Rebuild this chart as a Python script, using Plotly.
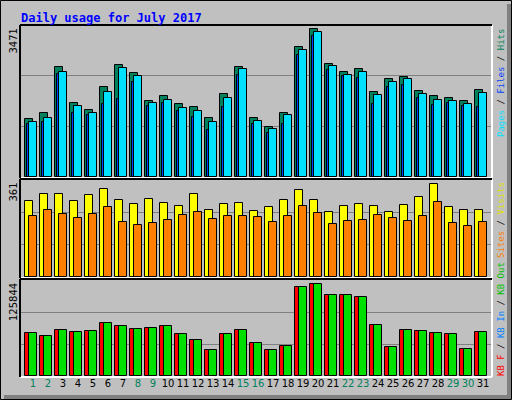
import plotly.graph_objects as go

days = list(range(1, 32))
weekend = [1, 2, 8, 9, 15, 16, 22, 23, 29, 30]
hits = [1325,1462,2512,1690,1530,2055,2558,2375,1736,1850,1667,1599,1347,1895,2512,1347,1142,1462,2969,3380,2580,2398,2466,1941,2238,2284,1964,1850,1804,1736,1987]
files = [1210,1256,2352,1462,1416,1667,1781,2169,1622,1690,1507,1370,1073,1599,2329,1210,1005,1210,2786,3220,2444,2307,2261,1667,2055,2101,1804,1644,1690,1622,1599]
pages = [1256,1347,2398,1622,1462,1941,2489,2307,1690,1759,1576,1507,1256,1804,2466,1279,1096,1416,2900,3311,2535,2329,2398,1873,2169,2238,1895,1759,1736,1667,1918]
visits = [283,309,309,283,305,327,286,272,290,275,264,309,249,272,275,246,260,286,324,286,242,264,272,264,242,268,298,346,260,249,249]
sites = [227,249,234,219,234,260,205,193,201,212,231,242,216,227,227,223,205,227,264,238,197,208,212,231,219,208,227,279,201,190,205]
kbout = [56373,52440,60306,57684,58995,69483,65550,61617,62928,65550,55062,47196,34086,55062,60306,43263,34086,39330,116679,120612,106191,106191,103569,66861,38019,60306,58995,56373,55062,35397,57684]
max1, max2, max3 = 3471, 361, 125844

W, H = 512, 400
def py(p): return 1 - p / H
def px(p): return p / W

fig = go.Figure()
def bar(y, color, off, xa, ya):
    fig.add_trace(go.Bar(x=days, y=y, marker=dict(color=color, line=dict(color="black", width=1)),
                         offset=off, width=0.53, xaxis=xa, yaxis=ya, showlegend=False, hoverinfo="skip"))

bar(hits, "#00805C", -0.53, "x", "y")
bar(files, "#0040FF", -0.40, "x", "y")
bar(pages, "#00E0FF", -0.27, "x", "y")
bar(visits, "#FFFF00", -0.53, "x2", "y2")
bar(sites, "#FF8000", -0.27, "x2", "y2")
bar(kbout, "#FF0000", -0.53, "x3", "y3")
bar(kbout, "#00E000", -0.27, "x3", "y3")

xr = [0.133, 31.53]
dom_x = [px(20), px(491)]
ticktext = [f'<span style="color:{"#00805C" if d in weekend else "black"}">{d}</span>' for d in days]
common_x = dict(range=xr, domain=dom_x, showgrid=False, zeroline=False, fixedrange=True)
def yax(m, top, bot):
    return dict(range=[0, m], domain=[py(bot), py(top)], tickvals=[m/3, 2*m/3], showticklabels=False,
                ticks="", gridcolor="#808080", gridwidth=1, zeroline=False)

fig.update_layout(
    width=W, height=H, margin=dict(l=0, r=0, t=0, b=0),
    paper_bgcolor="#C0C0C0", plot_bgcolor="#C0C0C0", barmode="overlay", bargap=0,
    xaxis=dict(**common_x, anchor="y", showticklabels=False),
    xaxis2=dict(**common_x, anchor="y2", showticklabels=False),
    xaxis3=dict(**common_x, anchor="y3", tickvals=days, ticktext=ticktext, ticks="",
                tickfont=dict(family="DejaVu Sans", size=10)),
    yaxis=yax(max1, 25, 177), yaxis2=yax(max2, 180, 277), yaxis3=yax(max3, 280, 376),
    font=dict(family="DejaVu Sans", color="black"),
)

shapes = [
    dict(type="rect", xref="paper", yref="paper", x0=px(0.5), x1=px(511.5), y0=py(399.5), y1=py(0.5),
         line=dict(color="black", width=1)),
    dict(type="rect", xref="paper", yref="paper", x0=px(507), x1=px(511), y0=py(399), y1=py(4),
         fillcolor="#808080", line=dict(width=0)),
    dict(type="rect", xref="paper", yref="paper", x0=px(4), x1=px(511), y0=py(399), y1=py(395),
         fillcolor="#808080", line=dict(width=0)),
]
for top, bot in [(25, 178), (179, 278), (279, 377)]:
    shapes.append(dict(type="line", xref="paper", yref="paper", x0=px(20), x1=px(492), y0=py(bot), y1=py(bot), line=dict(color="white", width=2)))
    shapes.append(dict(type="line", xref="paper", yref="paper", x0=px(492), x1=px(492), y0=py(bot), y1=py(top), line=dict(color="white", width=2)))
    shapes.append(dict(type="line", xref="paper", yref="paper", x0=px(20), x1=px(492), y0=py(top), y1=py(top), line=dict(color="black", width=2)))
    shapes.append(dict(type="line", xref="paper", yref="paper", x0=px(20), x1=px(20), y0=py(bot), y1=py(top), line=dict(color="black", width=2)))
fig.update_layout(shapes=shapes)

ann = [
    dict(text="<b>Daily usage for July 2017</b>", x=px(19), y=py(9), xanchor="left", yanchor="top",
         font=dict(family="DejaVu Sans Mono", size=12, color="#0000FF")),
]
for lab, top in [(str(max1), 27), (str(max2), 181), (str(max3), 281)]:
    ann.append(dict(text=lab, x=px(13), y=py(top), xanchor="center", yanchor="top", textangle=-90,
                    font=dict(family="DejaVu Sans", size=10)))
lf = dict(family="DejaVu Sans Mono", size=9)
ann.append(dict(text='<span style="color:#00E0FF">Pages</span> / <span style="color:#0040FF">Files</span> / <span style="color:#00805C">Hits</span>',
                x=px(501), y=py(27), xanchor="center", yanchor="top", textangle=-90, font=lf))
ann.append(dict(text='<span style="color:#FF8000">Sites</span> / <span style="color:#E0E000">Visits</span>',
                x=px(501), y=py(180), xanchor="center", yanchor="top", textangle=-90, font=lf))
ann.append(dict(text='<span style="color:#FF0000">KB F</span> / <span style="color:#0080FF">KB In</span> / <span style="color:#00C000">KB Out</span>',
                x=px(501), y=py(378), xanchor="center", yanchor="bottom", textangle=-90, font=lf))
for a in ann:
    a.update(xref="paper", yref="paper", showarrow=False)
fig.update_layout(annotations=ann)

fig.write_html("out.html", config={"displayModeBar": False},
               post_script="document.body.style.margin='0';document.body.style.overflow='hidden';")
